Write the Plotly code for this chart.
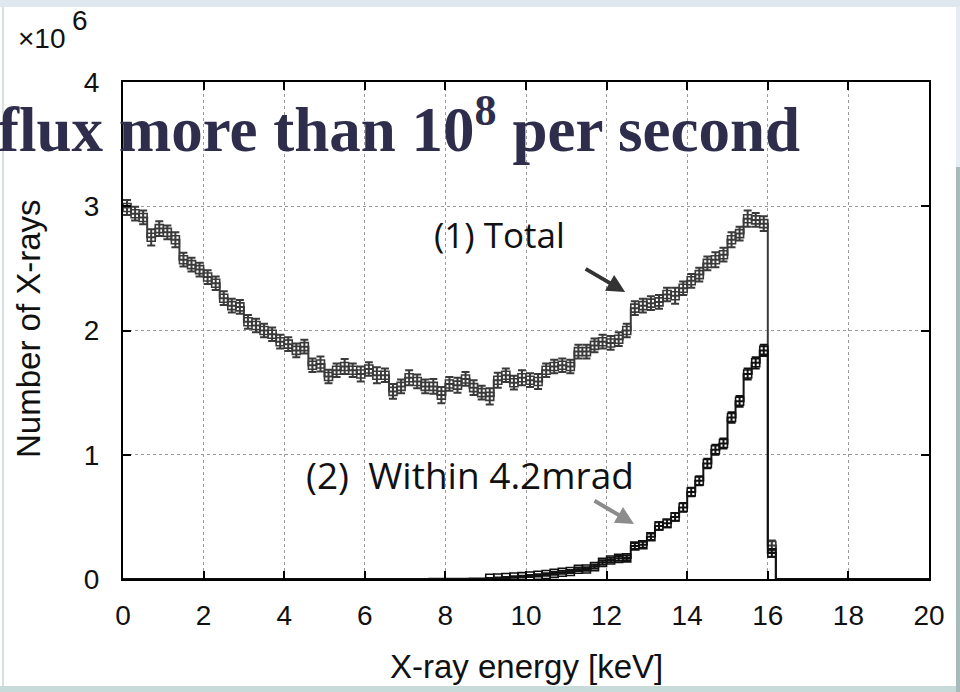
import numpy as np
import plotly.graph_objects as go

# ---------------- data (units of 10^6 X-rays per 0.2 keV bin) ----------------
bin_width = 0.2
bin_start = 0.0
total = [2.99, 2.94, 2.91, 2.75, 2.82, 2.79, 2.73, 2.57, 2.53, 2.49,
         2.43, 2.38, 2.26, 2.20, 2.19, 2.07, 2.04, 2.00, 1.97, 1.91,
         1.89, 1.84, 1.87, 1.72, 1.73, 1.63, 1.68, 1.71, 1.68, 1.65,
         1.69, 1.64, 1.64, 1.51, 1.55, 1.62, 1.59, 1.55, 1.55, 1.48,
         1.57, 1.56, 1.61, 1.54, 1.50, 1.47, 1.60, 1.64, 1.58, 1.62,
         1.60, 1.59, 1.68, 1.71, 1.72, 1.71, 1.83, 1.83, 1.88, 1.91,
         1.90, 1.93, 2.00, 2.18, 2.20, 2.22, 2.23, 2.29, 2.28, 2.34,
         2.40, 2.45, 2.54, 2.57, 2.61, 2.73, 2.78, 2.90, 2.89, 2.86,
         0.27]
total_err = [0.06, 0.055, 0.055, 0.065, 0.06, 0.055, 0.06, 0.055, 0.055, 0.055,
             0.055, 0.055, 0.055, 0.055, 0.055, 0.055, 0.055, 0.055, 0.055, 0.055,
             0.055, 0.055, 0.055, 0.055, 0.06, 0.055, 0.055, 0.06, 0.055, 0.06,
             0.055, 0.065, 0.055, 0.06, 0.055, 0.06, 0.055, 0.055, 0.06, 0.065,
             0.055, 0.06, 0.055, 0.06, 0.055, 0.065, 0.06, 0.055, 0.055, 0.06,
             0.055, 0.06, 0.055, 0.055, 0.055, 0.055, 0.055, 0.055, 0.055, 0.055,
             0.055, 0.055, 0.055, 0.055, 0.055, 0.055, 0.055, 0.055, 0.065, 0.055,
             0.055, 0.055, 0.055, 0.06, 0.055, 0.06, 0.055, 0.065, 0.055, 0.06,
             0.04]
within = [0.0] * 35 + [
    0.001, 0.001, 0.001, 0.002, 0.002, 0.002, 0.003, 0.003, 0.004, 0.005,
    0.006, 0.008, 0.012, 0.016, 0.019, 0.024, 0.030, 0.036, 0.045, 0.054,
    0.060, 0.078, 0.080, 0.100, 0.134, 0.153, 0.166, 0.170, 0.265, 0.276,
    0.340, 0.426, 0.448, 0.500, 0.576, 0.700, 0.790, 0.930, 1.040, 1.090,
    1.300, 1.430, 1.650, 1.740, 1.840, 0.210]
within_err = [0.0] * 35 + [
    0.001, 0.001, 0.001, 0.002, 0.002, 0.002, 0.002, 0.002, 0.003, 0.003,
    0.003, 0.004, 0.005, 0.006, 0.007, 0.008, 0.009, 0.010, 0.011, 0.012,
    0.012, 0.014, 0.014, 0.015, 0.017, 0.018, 0.019, 0.019, 0.024, 0.024,
    0.027, 0.030, 0.031, 0.032, 0.035, 0.035, 0.036, 0.038, 0.040, 0.040,
    0.042, 0.043, 0.045, 0.045, 0.046, 0.03]
x_ticks = [0, 2, 4, 6, 8, 10, 12, 14, 16, 18, 20]
y_ticks = [0, 1, 2, 3, 4]

n = len(total)
edges = bin_start + bin_width * np.arange(n + 1)
centers = edges[:-1] + bin_width / 2

# plot area in pixels (for placing decorations)
L, R, T, B = 123, 929, 82, 579
W, H = 960, 692
def fx(px):
    return (px - L) / (R - L)
def fy(py):
    return (B - py) / (B - T)

fig = go.Figure()

def add_series(vals, errs, color, lw):
    step_x = list(edges) + [20]
    step_y = list(vals) + [0, 0]
    fig.add_trace(go.Scatter(x=step_x, y=step_y, mode="lines",
                             line=dict(shape="hv", color=color, width=lw),
                             hoverinfo="skip", showlegend=False))
    idx = [i for i, v in enumerate(vals) if v > 0.005]
    fig.add_trace(go.Scatter(
        x=[centers[i] for i in idx], y=[vals[i] for i in idx], mode="markers",
        marker=dict(symbol="square-open", size=8, color=color,
                    line=dict(width=1.6, color=color)),
        error_y=dict(type="data", array=[errs[i] for i in idx], color=color,
                     thickness=2, width=4),
        showlegend=False))

add_series(total, total_err, "#3a3a3a", 2)
add_series(within, within_err, "#111111", 2)

axis_common = dict(showline=True, linewidth=2, linecolor="black", mirror="allticks",
                   ticks="inside", ticklen=8, tickwidth=2, tickcolor="black",
                   showgrid=True, gridcolor="#9a9a9a", griddash="dot", gridwidth=1,
                   zeroline=False,
                   tickfont=dict(family="Liberation Sans", size=28, color="#111"))

fig.update_layout(
    width=W, height=H,
    margin=dict(l=L, r=W - R, t=T, b=H - B),
    paper_bgcolor="white", plot_bgcolor="white",
    xaxis=dict(range=[0, 20], tickvals=x_ticks, ticklabelstandoff=10, **axis_common),
    yaxis=dict(range=[0, 4], tickvals=y_ticks, ticklabelstandoff=16, **axis_common),
)

shapes = [
    dict(type="rect", xref="paper", yref="paper", x0=fx(0), x1=fx(W), y0=fy(0), y1=fy(7),
         fillcolor="#dfe7ef", line=dict(width=0), layer="below"),
    dict(type="rect", xref="paper", yref="paper", x0=fx(956), x1=fx(W), y0=fy(7), y1=fy(167),
         fillcolor="#e6ecf5", line=dict(width=0), layer="below"),
    dict(type="rect", xref="paper", yref="paper", x0=fx(956), x1=fx(W), y0=fy(167), y1=fy(H),
         fillcolor="#a7bbbb", line=dict(width=0), layer="below"),
    dict(type="rect", xref="paper", yref="paper", x0=fx(0), x1=fx(956), y0=fy(686), y1=fy(H),
         fillcolor="#c8dbdb", line=dict(width=0), layer="below"),
    dict(type="line", xref="paper", yref="paper", x0=fx(3), x1=fx(3), y0=fy(7), y1=fy(686),
         line=dict(width=1, color="#b0c0c0"), layer="below"),
]
fig.update_layout(shapes=shapes)

ann = []
# axis titles
ann.append(dict(text="Number of X-rays", xref="paper", yref="paper", x=fx(28), y=fy(329),
                textangle=-90, showarrow=False, xanchor="center", yanchor="middle",
                font=dict(family="Liberation Sans", size=33, color="#111")))
ann.append(dict(text="X-ray energy [keV]", xref="paper", yref="paper", x=0.5, y=fy(666),
                showarrow=False, xanchor="center", yanchor="middle",
                font=dict(family="Liberation Sans", size=33, color="#111")))
# exponent
ann.append(dict(text="×10", xref="paper", yref="paper", x=fx(16), y=fy(38),
                showarrow=False, xanchor="left", yanchor="middle",
                font=dict(family="Liberation Sans", size=28, color="#111")))
ann.append(dict(text="6", xref="paper", yref="paper", x=fx(70), y=fy(21),
                showarrow=False, xanchor="left", yanchor="middle",
                font=dict(family="Liberation Sans", size=28, color="#111")))
# overlay heading
ann.append(dict(text="flux more than 10<sup>8</sup> per second", xref="paper", yref="paper",
                x=fx(802), y=fy(125), showarrow=False, xanchor="right", yanchor="middle",
                font=dict(family="Liberation Serif", size=63, color="#2e2e4c", weight="bold")))
# series labels with arrows
ann.append(dict(text="", xref="x", yref="y", x=12.46, y=2.31,
                ax=-41, ay=-24, showarrow=True, arrowhead=2, arrowsize=0.9,
                arrowwidth=4, arrowcolor="#333333", standoff=0))
ann.append(dict(text="(1) Total", xref="paper", yref="paper", x=fx(432), y=fy(234),
                showarrow=False, xanchor="left", yanchor="middle",
                font=dict(family="Open Sans", size=35, color="#111")))
ann.append(dict(text="", xref="x", yref="y", x=12.68, y=0.443,
                ax=-41, ay=-24, showarrow=True, arrowhead=2, arrowsize=0.9,
                arrowwidth=4, arrowcolor="#8c8c8c", standoff=0))
ann.append(dict(text="(2)  Within 4.2mrad", xref="paper", yref="paper", x=fx(304), y=fy(474),
                showarrow=False, xanchor="left", yanchor="middle",
                font=dict(family="Open Sans", size=37, color="#111")))
fig.update_layout(annotations=ann)

fig.write_html("out.html")
